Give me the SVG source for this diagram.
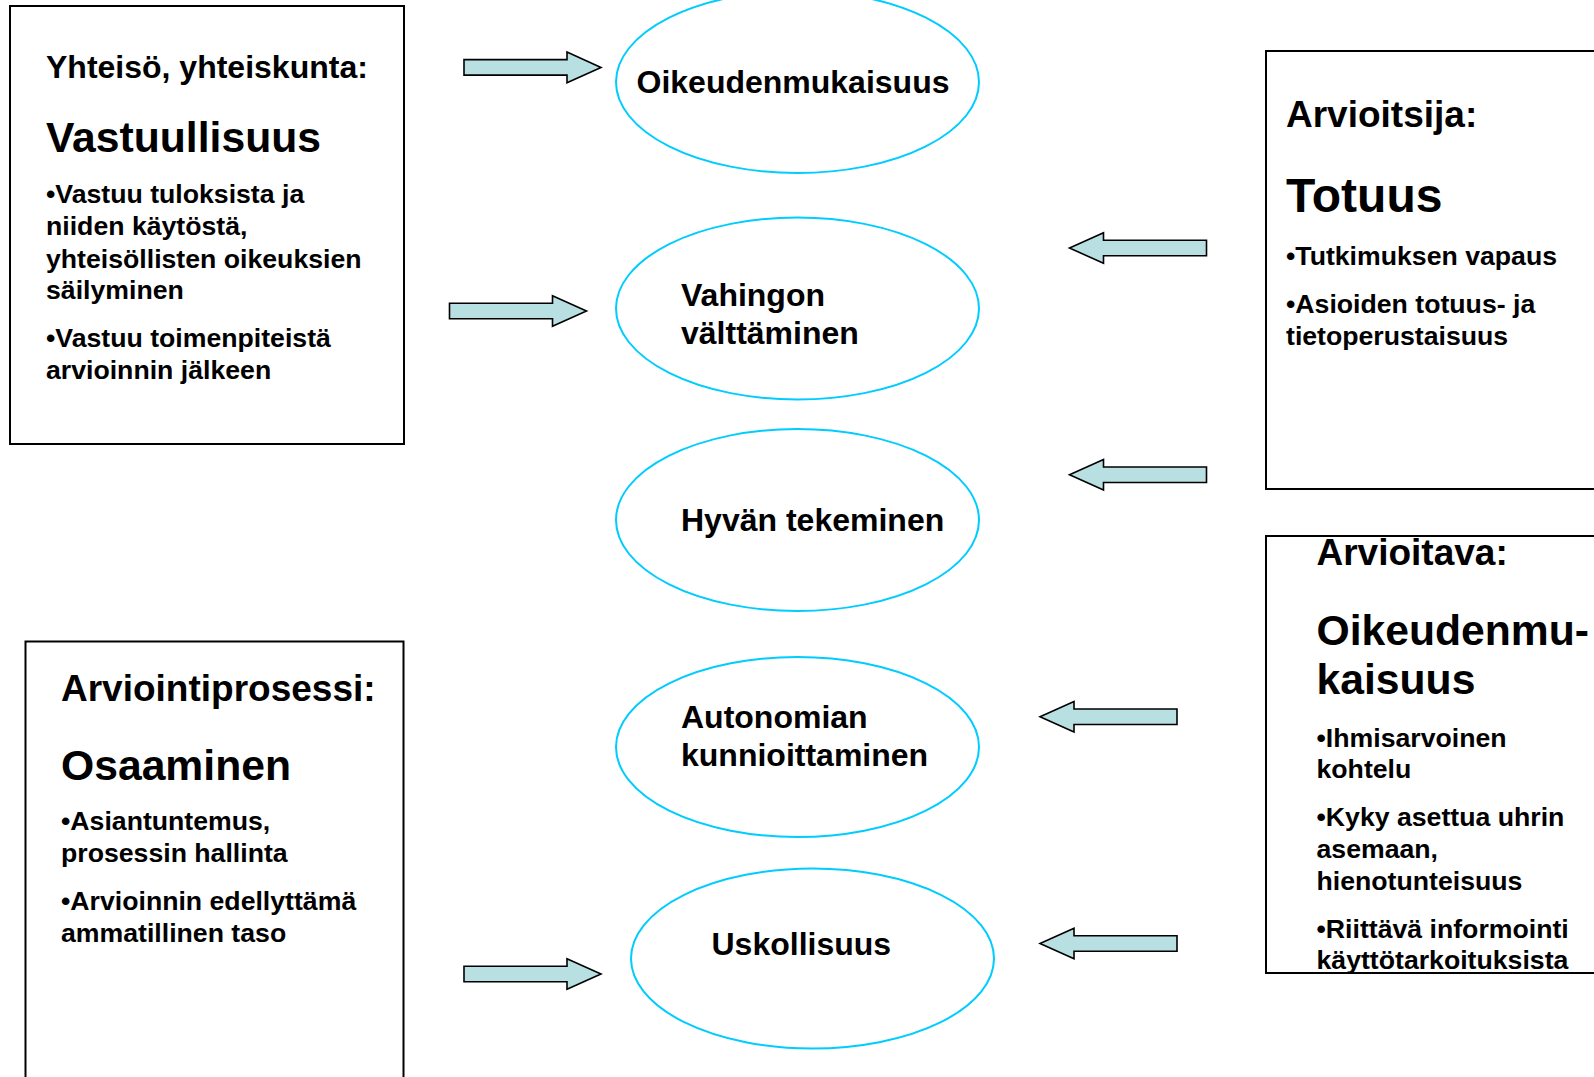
<svg xmlns="http://www.w3.org/2000/svg" xmlns:xlink="http://www.w3.org/1999/xlink" width="1594" height="1077" viewBox="0 0 1594 1077">
<style>
text{font-family:"Liberation Sans",Arial,sans-serif;font-weight:bold;fill:#000}
.h{font-size:32px}
.h2{font-size:37px}
.big{font-size:42.67px}
.big2{font-size:48px}
.b{font-size:26.67px}
.box{fill:#fff;stroke:#000;stroke-width:2}
.ell{fill:#fff;stroke:#00CCFF;stroke-width:2}
.arr{fill:#B8DFE1;stroke:#000;stroke-width:1.6}
</style>
<defs>
<path id="ar" d="M-137,-7.75 H-34 V-15.3 L0,0 L-34,15.3 V7.75 H-137 Z"/>
</defs>
<rect width="1594" height="1077" fill="#fff"/>
<g id="box-yhteiso">
<rect class="box" x="10" y="6" width="394" height="438"/>
<text class="h" x="46" y="78">Yhteisö, yhteiskunta:</text>
<text class="big" x="46" y="152">Vastuullisuus</text>
<text class="b" x="46" y="203">•Vastuu tuloksista ja</text>
<text class="b" x="46" y="235">niiden käytöstä,</text>
<text class="b" x="46" y="268">yhteisöllisten oikeuksien</text>
<text class="b" x="46" y="299">säilyminen</text>
<text class="b" x="46" y="347">•Vastuu toimenpiteistä</text>
<text class="b" x="46" y="379">arvioinnin jälkeen</text>
</g>
<g id="box-arviointiprosessi">
<rect class="box" x="25.5" y="641.5" width="378" height="450"/>
<text class="h2" x="61" y="701">Arviointiprosessi:</text>
<text class="big" x="61" y="780">Osaaminen</text>
<text class="b" x="61" y="830">•Asiantuntemus,</text>
<text class="b" x="61" y="861.5">prosessin hallinta</text>
<text class="b" x="61" y="910">•Arvioinnin edellyttämä</text>
<text class="b" x="61" y="942">ammatillinen taso</text>
</g>
<g id="box-arvioitsija">
<rect class="box" x="1266" y="51" width="350" height="438"/>
<text class="h2" x="1286" y="126.5">Arvioitsija:</text>
<text class="big2" x="1286" y="212">Totuus</text>
<text class="b" x="1286" y="265">•Tutkimuksen vapaus</text>
<text class="b" x="1286" y="313">•Asioiden totuus- ja</text>
<text class="b" x="1286" y="345">tietoperustaisuus</text>
</g>
<g id="box-arvioitava">
<rect class="box" x="1266" y="536" width="350" height="437"/>
<text class="h2" x="1316.5" y="565">Arvioitava:</text>
<text class="big" x="1316.5" y="644.5">Oikeudenmu-</text>
<text class="big" x="1316.5" y="694">kaisuus</text>
<text class="b" x="1316.5" y="746.5">•Ihmisarvoinen</text>
<text class="b" x="1316.5" y="778">kohtelu</text>
<text class="b" x="1316.5" y="826">•Kyky asettua uhrin</text>
<text class="b" x="1316.5" y="857.5">asemaan,</text>
<text class="b" x="1316.5" y="890">hienotunteisuus</text>
<text class="b" x="1316.5" y="938">•Riittävä informointi</text>
<text class="b" x="1316.5" y="969">käyttötarkoituksista</text>
</g>
<g id="ell-oikeudenmukaisuus">
<ellipse class="ell" cx="797.5" cy="82" rx="181.5" ry="91"/>
<text class="h" x="636.5" y="93">Oikeudenmukaisuus</text>
</g>
<g id="ell-vahingon">
<ellipse class="ell" cx="797.5" cy="308.5" rx="181.5" ry="91"/>
<text class="h" x="681" y="306">Vahingon</text>
<text class="h" x="681" y="344">välttäminen</text>
</g>
<g id="ell-hyvan">
<ellipse class="ell" cx="797.5" cy="520" rx="181.5" ry="91"/>
<text class="h" x="681" y="531">Hyvän tekeminen</text>
</g>
<g id="ell-autonomian">
<ellipse class="ell" cx="797.5" cy="747" rx="181.5" ry="90"/>
<text class="h" x="681" y="728">Autonomian</text>
<text class="h" x="681" y="766">kunnioittaminen</text>
</g>
<g id="ell-uskollisuus">
<ellipse class="ell" cx="812.5" cy="958.5" rx="181.5" ry="90"/>
<text class="h" x="711.5" y="955">Uskollisuus</text>
</g>
<g id="connectors">
<use xlink:href="#ar" class="arr" transform="translate(601,67.4)"/>
<use xlink:href="#ar" class="arr" transform="translate(586.5,311)"/>
<use xlink:href="#ar" class="arr" transform="translate(601,974)"/>
<use xlink:href="#ar" class="arr" transform="translate(1069.5,248) scale(-1,1)"/>
<use xlink:href="#ar" class="arr" transform="translate(1069.5,474.7) scale(-1,1)"/>
<use xlink:href="#ar" class="arr" transform="translate(1040,716.7) scale(-1,1)"/>
<use xlink:href="#ar" class="arr" transform="translate(1040,943.5) scale(-1,1)"/>
</g>
</svg>
